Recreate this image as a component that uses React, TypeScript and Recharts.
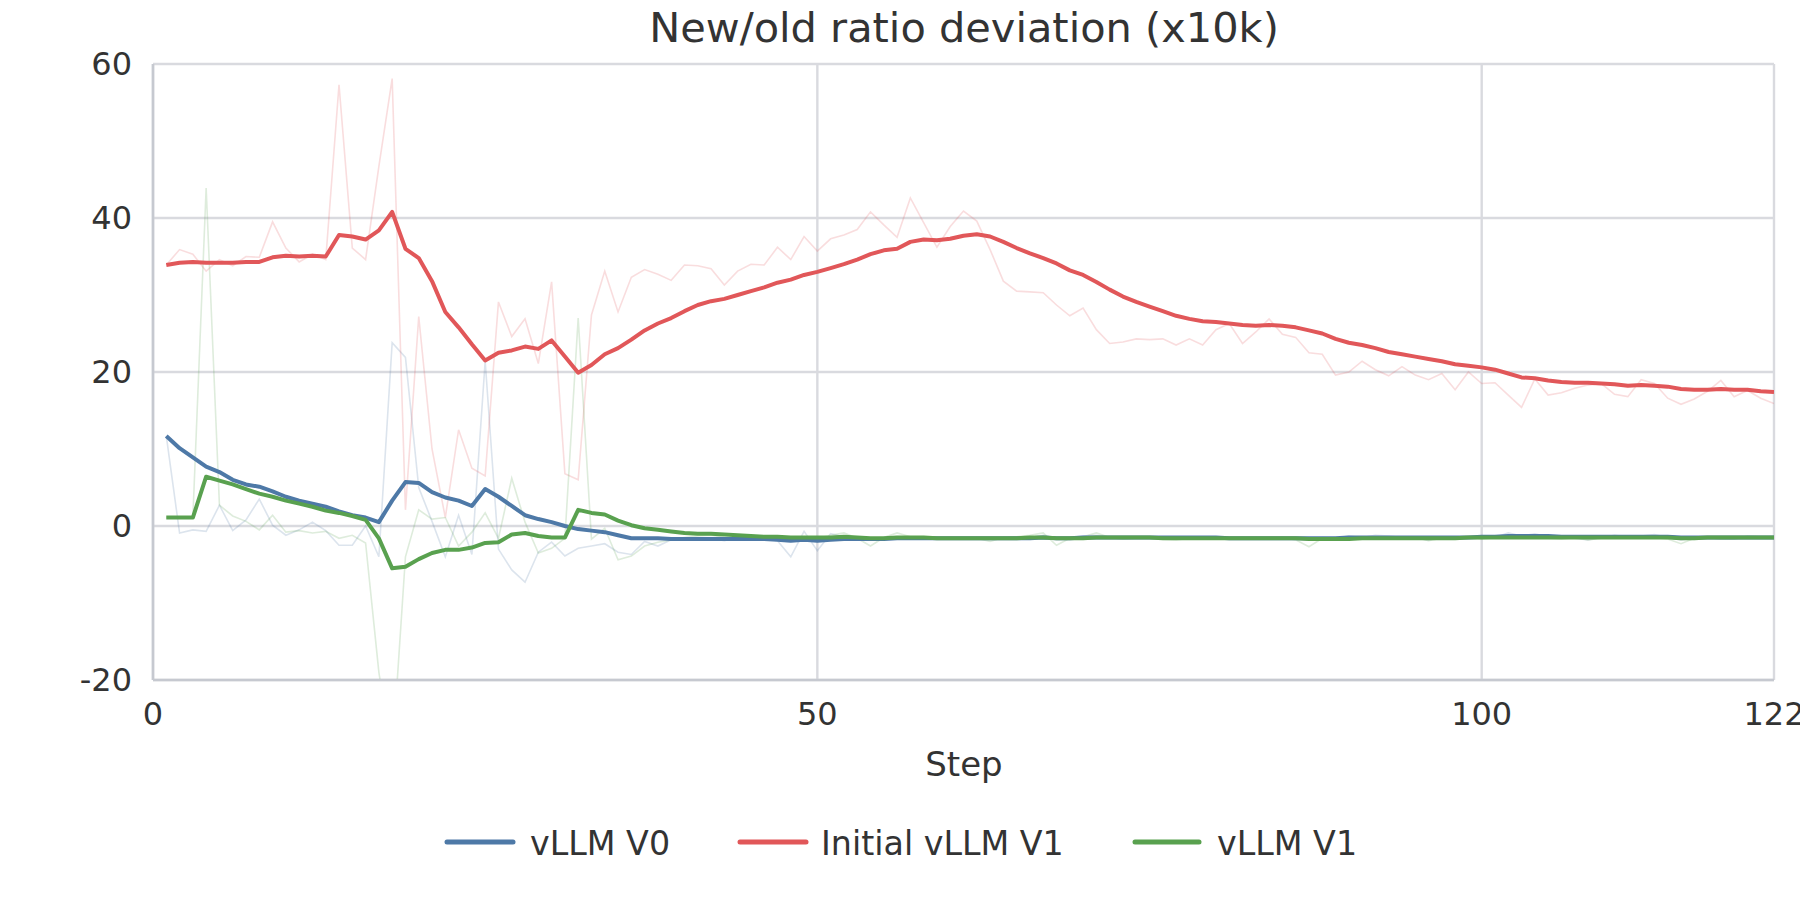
import React from 'react';
import { LineChart, Line, XAxis, YAxis, CartesianGrid } from 'recharts';

// ---- data (step = index + 1) ----
const xTicks = [0, 50, 100, 122];
const yTicks = [-20, 0, 20, 40, 60];

const v0Smooth = [
  11.7, 10.1, 8.9, 7.7, 7.0, 6.0, 5.4, 5.1, 4.5, 3.8,
  3.3, 2.9, 2.5, 1.9, 1.4, 1.1, 0.5, 3.3, 5.7, 5.6,
  4.4, 3.7, 3.3, 2.6, 4.8, 3.8, 2.6, 1.4, 0.9, 0.5,
  0.0, -0.4, -0.6, -0.8, -1.2, -1.6, -1.6, -1.6, -1.7, -1.7,
  -1.7, -1.7, -1.7, -1.7, -1.7, -1.7, -1.8, -1.9, -1.8, -1.9,
  -1.8, -1.7, -1.7, -1.7, -1.7, -1.6, -1.6, -1.6, -1.6, -1.6,
  -1.6, -1.6, -1.6, -1.6, -1.6, -1.6, -1.5, -1.6, -1.6, -1.5,
  -1.5, -1.5, -1.5, -1.5, -1.5, -1.5, -1.5, -1.5, -1.5, -1.5,
  -1.6, -1.6, -1.6, -1.6, -1.6, -1.6, -1.6, -1.6, -1.6, -1.5,
  -1.5, -1.5, -1.5, -1.5, -1.5, -1.5, -1.5, -1.5, -1.5, -1.4,
  -1.4, -1.3, -1.3, -1.3, -1.3, -1.4, -1.4, -1.4, -1.4, -1.4,
  -1.4, -1.4, -1.4, -1.4, -1.5, -1.5, -1.5, -1.5, -1.5, -1.5,
  -1.5, -1.5,
];

const v0Raw = [
  11.7, -0.9, -0.5, -0.7, 2.7, -0.6, 0.8, 3.5, 0.1, -1.2,
  -0.5, 0.5, -0.6, -2.5, -2.5, 0.0, -4.0, 23.8, 21.9, 5.0,
  0.6, -4.0, 1.4, -3.7, 21.4, -3.0, -5.7, -7.3, -3.4, -2.1,
  -3.9, -2.9, -2.6, -2.3, -3.4, -3.7, -2.0, -2.6, -1.8, -1.8,
  -1.7, -1.6, -1.9, -1.5, -1.7, -1.6, -1.9, -4.0, -0.7, -3.2,
  -1.0, -1.4, -1.8, -1.7, -1.5, -1.6, -1.7, -1.6, -1.5, -1.6,
  -1.6, -1.5, -1.7, -1.6, -1.4, -1.5, -1.2, -1.6, -1.5, -1.3,
  -1.2, -1.5, -1.6, -1.4, -1.5, -1.6, -1.5, -1.4, -1.6, -1.5,
  -1.7, -1.6, -1.5, -1.6, -1.5, -1.7, -1.8, -1.5, -1.6, -1.3,
  -1.5, -1.2, -1.3, -1.5, -1.6, -1.8, -1.5, -1.6, -1.5, -1.4,
  -1.5, -0.9, -1.3, -1.0, -1.4, -1.5, -1.6, -1.8, -1.5, -1.2,
  -1.4, -1.3, -1.1, -1.5, -1.8, -1.6, -1.5, -1.6, -1.7, -1.3,
  -1.4, -1.6,
];

const initV1Smooth = [
  33.9, 34.2, 34.3, 34.2, 34.2, 34.2, 34.3, 34.3, 34.9, 35.1,
  35.0, 35.1, 35.0, 37.8, 37.6, 37.2, 38.4, 40.8, 36.0, 34.8,
  31.8, 27.8, 25.8, 23.6, 21.5, 22.5, 22.8, 23.3, 23.0, 24.1,
  22.0, 19.9, 20.9, 22.3, 23.1, 24.2, 25.4, 26.3, 27.0, 27.9,
  28.7, 29.2, 29.5, 30.0, 30.5, 31.0, 31.6, 32.0, 32.6, 33.0,
  33.5, 34.0, 34.6, 35.3, 35.8, 36.0, 36.9, 37.2, 37.1, 37.3,
  37.7, 37.9, 37.6, 36.9, 36.1, 35.4, 34.8, 34.1, 33.2, 32.6,
  31.7, 30.7, 29.8, 29.1, 28.5, 27.9, 27.3, 26.9, 26.6, 26.5,
  26.3, 26.1, 26.0, 26.1, 26.0, 25.8, 25.4, 25.0, 24.3, 23.8,
  23.5, 23.1, 22.6, 22.3, 22.0, 21.7, 21.4, 21.0, 20.8, 20.6,
  20.3, 19.8, 19.3, 19.2, 18.9, 18.7, 18.6, 18.6, 18.5, 18.4,
  18.2, 18.3, 18.2, 18.1, 17.8, 17.7, 17.7, 17.8, 17.7, 17.7,
  17.5, 17.4,
];

const initV1Raw = [
  33.9, 35.9, 35.3, 33.1, 34.6, 33.8, 35.0, 34.9, 39.5, 36.1,
  34.3, 35.3, 34.6, 57.3, 36.1, 34.6, 46.7, 58.1, 2.1, 27.2,
  10.0, 1.1, 12.5, 7.5, 6.5, 29.1, 24.6, 26.9, 21.1, 31.7,
  6.8, 6.0, 27.4, 33.1, 27.8, 32.3, 33.3, 32.7, 31.9, 33.9,
  33.8, 33.4, 31.3, 33.1, 34.0, 33.9, 36.2, 34.6, 37.6, 35.7,
  37.3, 37.8, 38.5, 40.8, 39.1, 37.5, 42.6, 39.4, 36.2, 38.9,
  40.9, 39.6, 35.9, 31.8, 30.5, 30.4, 30.3, 28.7, 27.3, 28.3,
  25.5, 23.7, 23.9, 24.3, 24.2, 24.3, 23.5, 24.3, 23.5, 25.5,
  26.3, 23.7, 25.2, 26.9, 24.9, 24.5, 22.5, 22.3, 19.6, 20.0,
  21.4, 20.3, 19.5, 20.7, 19.6, 19.0, 19.8, 17.7, 20.0, 18.5,
  18.6, 17.0, 15.4, 19.1, 17.0, 17.3, 17.9, 18.3, 18.5, 17.1,
  16.8, 19.0, 18.5, 16.6, 15.8, 16.5, 17.5, 18.9, 16.8, 17.6,
  16.6, 15.9,
];

const v1Smooth = [
  1.1, 1.1, 1.1, 6.4, 5.9, 5.4, 4.8, 4.2, 3.8, 3.3,
  2.9, 2.5, 2.0, 1.7, 1.3, 0.8, -1.6, -5.5, -5.3, -4.3,
  -3.5, -3.1, -3.1, -2.8, -2.2, -2.1, -1.1, -0.9, -1.3, -1.5,
  -1.5, 2.1, 1.7, 1.5, 0.7, 0.1, -0.3, -0.5, -0.7, -0.9,
  -1.0, -1.0, -1.1, -1.2, -1.3, -1.4, -1.4, -1.5, -1.5, -1.5,
  -1.5, -1.4, -1.5, -1.6, -1.6, -1.5, -1.5, -1.5, -1.6, -1.6,
  -1.6, -1.6, -1.6, -1.6, -1.6, -1.5, -1.5, -1.6, -1.6, -1.6,
  -1.5, -1.5, -1.5, -1.5, -1.5, -1.6, -1.6, -1.6, -1.6, -1.6,
  -1.6, -1.6, -1.6, -1.6, -1.6, -1.6, -1.7, -1.7, -1.7, -1.7,
  -1.6, -1.6, -1.6, -1.6, -1.6, -1.6, -1.6, -1.6, -1.5, -1.5,
  -1.5, -1.5, -1.5, -1.5, -1.5, -1.5, -1.5, -1.5, -1.5, -1.5,
  -1.5, -1.5, -1.5, -1.5, -1.6, -1.6, -1.5, -1.5, -1.5, -1.5,
  -1.5, -1.5,
];

const v1Raw = [
  1.1, 1.1, 1.1, 43.9, 2.7, 1.3, 0.6, -0.5, 1.4, -0.8,
  -0.6, -0.9, -0.7, -1.6, -1.2, -2.2, -19.0, -30.0, -4.0, 2.1,
  0.9, 1.1, -2.6, -0.8, 1.7, -1.6, 6.2, 0.5, -3.5, -2.9,
  -1.6, 27.0, -1.7, -0.3, -4.4, -3.9, -2.6, -2.1, -1.8, -1.5,
  -1.3, -1.2, -1.5, -1.7, -1.6, -1.8, -1.5, -1.9, -1.4, -1.6,
  -1.2, -0.9, -1.6, -2.6, -1.5, -0.9, -1.4, -1.7, -1.6, -1.5,
  -1.7, -1.6, -2.0, -1.5, -1.4, -1.2, -0.9, -2.5, -1.6, -1.4,
  -0.9, -1.5, -1.7, -1.6, -1.5, -1.7, -1.8, -1.6, -1.5, -1.6,
  -1.7, -1.5, -1.6, -1.7, -1.5, -1.8, -2.7, -1.6, -1.5, -1.4,
  -1.5, -1.7, -1.6, -1.4, -1.5, -1.9, -1.6, -1.5, -1.6, -1.7,
  -1.5, -1.4, -1.6, -1.5, -1.6, -1.7, -1.5, -1.8, -1.6, -1.5,
  -1.4, -1.6, -1.5, -1.7, -2.3, -1.6, -1.5, -1.7, -1.6, -1.5,
  -1.4, -1.6,
];

const seriesNames = ['vLLM V0', 'Initial vLLM V1', 'vLLM V1'];

// ---- styling ----
const BLUE = '#4e79a7';
const RED = '#e15759';
const GREEN = '#59a14f';
const FONT = '"DejaVu Sans", sans-serif';
const TEXT = '#333333';
const GRID = '#d9dadf';
const AXIS = '#c6c9d0';

const rows = v0Smooth.map((_, i) => ({
  step: i + 1,
  v0s: v0Smooth[i],
  v0r: v0Raw[i],
  i1s: initV1Smooth[i],
  i1r: initV1Raw[i],
  v1s: v1Smooth[i],
  v1r: v1Raw[i],
}));

export default function App() {
  const legendItems = [
    { name: seriesNames[0], color: BLUE, x1: 447, x2: 513, tx: 530 },
    { name: seriesNames[1], color: RED, x1: 740, x2: 806, tx: 821 },
    { name: seriesNames[2], color: GREEN, x1: 1135, x2: 1199, tx: 1217 },
  ];
  return (
    <div
      style={{
        position: 'fixed',
        left: 0,
        top: 0,
        width: 1800,
        height: 919,
        overflow: 'hidden',
        background: '#ffffff',
      }}
    >
      <LineChart
        width={1800}
        height={919}
        data={rows}
        margin={{ top: 64, right: 26, left: 0, bottom: 179 }}
      >
        <CartesianGrid stroke={GRID} strokeWidth={2.4} vertical={true} horizontal={true} />
        <XAxis
          dataKey="step"
          type="number"
          domain={[0, 122]}
          ticks={xTicks}
          allowDataOverflow
          interval={0}
          height={60}
          tickLine={false}
          tickSize={6}
          tickMargin={16}
          axisLine={{ stroke: AXIS, strokeWidth: 2.6 }}
          tick={{ fontSize: 32, fill: TEXT, fontFamily: FONT }}
        />
        <YAxis
          type="number"
          domain={[-20, 60]}
          ticks={yTicks}
          allowDataOverflow
          interval={0}
          width={153}
          tickLine={false}
          tickSize={6}
          tickMargin={15}
          axisLine={{ stroke: AXIS, strokeWidth: 2.6 }}
          tick={{ fontSize: 32, fill: TEXT, fontFamily: FONT }}
        />
        <Line dataKey="v0r" type="linear" stroke={BLUE} strokeOpacity={0.2} strokeWidth={1.6} dot={false} activeDot={false} isAnimationActive={false} />
        <Line dataKey="i1r" type="linear" stroke={RED} strokeOpacity={0.2} strokeWidth={1.6} dot={false} activeDot={false} isAnimationActive={false} />
        <Line dataKey="v1r" type="linear" stroke={GREEN} strokeOpacity={0.2} strokeWidth={1.6} dot={false} activeDot={false} isAnimationActive={false} />
        <Line dataKey="v0s" name={seriesNames[0]} type="linear" stroke={BLUE} strokeWidth={4} strokeLinejoin="round" dot={false} activeDot={false} isAnimationActive={false} />
        <Line dataKey="i1s" name={seriesNames[1]} type="linear" stroke={RED} strokeWidth={4} strokeLinejoin="round" dot={false} activeDot={false} isAnimationActive={false} />
        <Line dataKey="v1s" name={seriesNames[2]} type="linear" stroke={GREEN} strokeWidth={4} strokeLinejoin="round" dot={false} activeDot={false} isAnimationActive={false} />
      </LineChart>
      <svg
        width={1800}
        height={919}
        style={{ position: 'absolute', left: 0, top: 0, pointerEvents: 'none' }}
      >
        <text x={964} y={42} textAnchor="middle" fontSize={41.5} fill={TEXT} fontFamily={FONT}>
          New/old ratio deviation (x10k)
        </text>
        <text x={964} y={776} textAnchor="middle" fontSize={34} fill={TEXT} fontFamily={FONT}>
          Step
        </text>
        {legendItems.map((it) => (
          <g key={it.name}>
            <line x1={it.x1} x2={it.x2} y1={842} y2={842} stroke={it.color} strokeWidth={5} strokeLinecap="round" />
            <text x={it.tx} y={855} fontSize={33.3} fill={TEXT} fontFamily={FONT}>
              {it.name}
            </text>
          </g>
        ))}
      </svg>
    </div>
  );
}
